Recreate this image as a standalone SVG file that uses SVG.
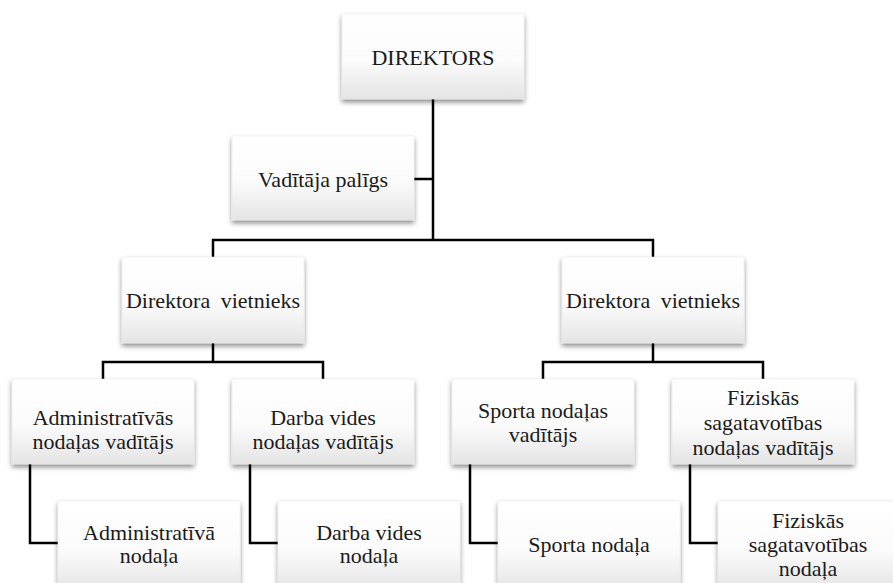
<svg xmlns="http://www.w3.org/2000/svg" width="893" height="583" viewBox="0 0 893 583">
<defs>
<linearGradient id="g" x1="0" y1="0" x2="0" y2="1">
<stop offset="0" stop-color="#ffffff"/>
<stop offset="0.55" stop-color="#fbfbfb"/>
<stop offset="1" stop-color="#e4e4e4"/>
</linearGradient>
<filter id="sh" x="-10%" y="-10%" width="120%" height="130%">
<feDropShadow dx="0" dy="3" stdDeviation="2.5" flood-color="#000" flood-opacity="0.45"/>
</filter>
</defs>
<style>
.box{fill:url(#g);stroke:#e8e8e8;stroke-width:0.5;filter:url(#sh)}
.t{font-family:'Liberation Serif','Times New Roman','DejaVu Serif',serif;font-size:22px;fill:#1a1a1a;text-anchor:middle}
.c{fill:none;stroke:#000;stroke-width:2.5}
</style>
<rect width="893" height="583" fill="#fff"/>
<g id="connectors">
<path class="c" d="M433 99V240"/>
<path class="c" d="M414 179H433"/>
<path class="c" d="M213 257V240H653V257"/>
<path class="c" d="M213 343V362"/>
<path class="c" d="M103 379V362H323V379"/>
<path class="c" d="M653 343V362"/>
<path class="c" d="M543 379V362H763V379"/>
<path class="c" d="M30 464V543H58"/>
<path class="c" d="M250 464V543H278"/>
<path class="c" d="M470 464V543H498"/>
<path class="c" d="M690 464V543H718"/>
</g>
<g id="direktors">
<rect class="box" x="342" y="14" width="182" height="85"/>
<text class="t" font-family="Liberation Serif, serif" x="433" y="65">DIREKTORS</text>
</g>
<g id="vaditaja-paligs">
<rect class="box" x="232" y="136" width="182" height="84"/>
<text class="t" x="323" y="187">Vadītāja palīgs</text>
</g>
<g id="vietnieks-1">
<rect class="box" x="122" y="257" width="182" height="86"/>
<text class="t" x="213" y="308" word-spacing="5">Direktora vietnieks</text>
</g>
<g id="vietnieks-2">
<rect class="box" x="562" y="257" width="182" height="86"/>
<text class="t" x="653" y="308" word-spacing="5">Direktora vietnieks</text>
</g>
<g id="admin-vaditajs">
<rect class="box" x="12" y="379" width="182" height="85"/>
<text class="t" x="103" y="425">Administratīvās</text>
<text class="t" x="103" y="449">nodaļas vadītājs</text>
</g>
<g id="darba-vaditajs">
<rect class="box" x="232" y="379" width="182" height="85"/>
<text class="t" x="323" y="425">Darba vides</text>
<text class="t" x="323" y="449">nodaļas vadītājs</text>
</g>
<g id="sporta-vaditajs">
<rect class="box" x="452" y="379" width="182" height="85"/>
<text class="t" x="543" y="418">Sporta nodaļas</text>
<text class="t" x="543" y="442">vadītājs</text>
</g>
<g id="fiz-vaditajs">
<rect class="box" x="672" y="379" width="182" height="85"/>
<text class="t" x="763" y="405">Fiziskās</text>
<text class="t" x="763" y="430">sagatavotības</text>
<text class="t" x="763" y="455">nodaļas vadītājs</text>
</g>
<g id="admin-nodala">
<rect class="box" x="58" y="501" width="182" height="90"/>
<text class="t" x="149" y="540">Administratīvā</text>
<text class="t" x="149" y="563">nodaļa</text>
</g>
<g id="darba-nodala">
<rect class="box" x="278" y="501" width="182" height="90"/>
<text class="t" x="369" y="540">Darba vides</text>
<text class="t" x="369" y="563">nodaļa</text>
</g>
<g id="sporta-nodala">
<rect class="box" x="498" y="501" width="182" height="90"/>
<text class="t" x="589" y="552">Sporta nodaļa</text>
</g>
<g id="fiz-nodala">
<rect class="box" x="718" y="501" width="182" height="90"/>
<text class="t" x="808" y="528">Fiziskās</text>
<text class="t" x="808" y="552">sagatavotības</text>
<text class="t" x="808" y="576">nodaļa</text>
</g>
</svg>
